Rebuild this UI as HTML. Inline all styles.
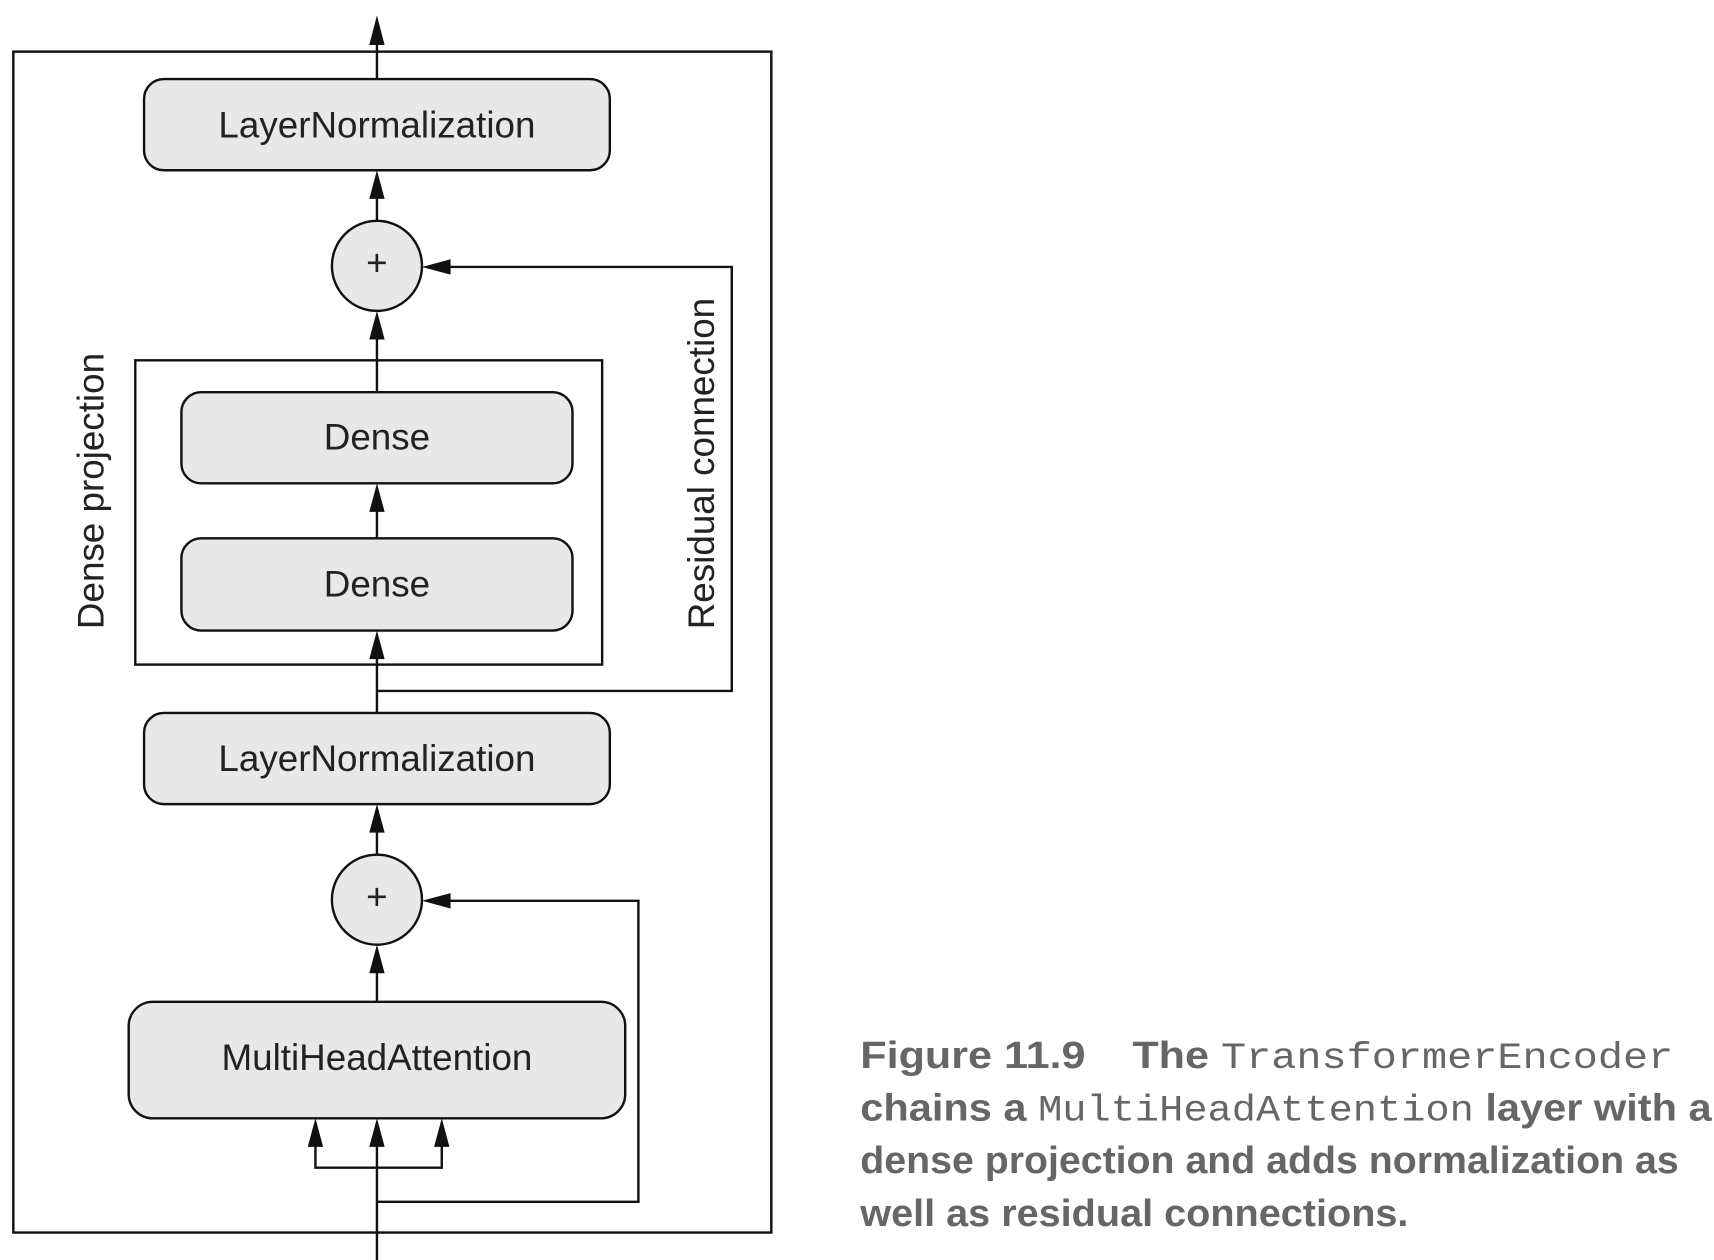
<!DOCTYPE html>
<html><head><meta charset="utf-8"><style>
html,body{margin:0;padding:0;background:#fff;width:1714px;height:1260px;overflow:hidden}
svg{display:block}
.b{fill:#e8e8e8;stroke:#111;stroke-width:2.2}
.l{fill:none;stroke:#111;stroke-width:2.2}
.t{font-family:"Liberation Sans",sans-serif;font-size:33.5px;fill:#222;text-anchor:middle}
.c{font-family:"Liberation Sans",sans-serif;font-weight:bold;font-size:35px;fill:#666}
.m{font-family:"Liberation Mono",monospace;font-weight:normal;font-size:34px;fill:#666}
</style></head><body>
<svg width="1714" height="1260" viewBox="0 0 1560 1147" xmlns="http://www.w3.org/2000/svg">
<rect x="12" y="47" width="690" height="1075" class="l"/>
<rect x="123" y="328" width="425" height="277" class="l" stroke-width="1.8"/>
<line x1="343" y1="72" x2="343" y2="30" class="l"/>
<line x1="343" y1="202" x2="343" y2="170" class="l"/>
<line x1="343" y1="357" x2="343" y2="300" class="l"/>
<line x1="343" y1="490" x2="343" y2="460" class="l"/>
<line x1="343" y1="649" x2="343" y2="590" class="l"/>
<line x1="343" y1="779" x2="343" y2="750" class="l"/>
<line x1="343" y1="912" x2="343" y2="880" class="l"/>
<line x1="343" y1="1148" x2="343" y2="1035" class="l"/>
<polyline points="287,1035 287,1063 402,1063 402,1035" class="l"/>
<g fill="#111">
<path d="M343,14 L336,41 L350,41 Z"/>
<path d="M343,155 L336,181 L350,181 Z"/>
<path d="M343,283 L336,309 L350,309 Z"/>
<path d="M343,440 L336,466 L350,466 Z"/>
<path d="M343,574 L336,600 L350,600 Z"/>
<path d="M343,732 L336,758 L350,758 Z"/>
<path d="M343,860 L336,886 L350,886 Z"/>
<path d="M343,1018 L336,1044 L350,1044 Z"/>
<path d="M287,1018 L280,1044 L294,1044 Z"/>
<path d="M402,1018 L395,1044 L409,1044 Z"/>
<path d="M384,243 L410,236 L410,250 Z"/>
<path d="M384,820 L410,813 L410,827 Z"/>
</g>
<polyline points="343,629 666,629 666,243 405,243" class="l"/>
<polyline points="343,1094 581,1094 581,820 405,820" class="l"/>
<rect x="131" y="72" width="424" height="83" rx="18" class="b"/>
<text x="343" y="125" class="t">LayerNormalization</text>
<circle cx="343" cy="242" r="41" class="b"/>
<text x="343" y="251" class="t" font-size="26">+</text>
<rect x="165" y="357" width="356" height="83" rx="18" class="b"/>
<text x="343" y="409" class="t">Dense</text>
<rect x="165" y="490" width="356" height="84" rx="18" class="b"/>
<text x="343" y="543" class="t">Dense</text>
<rect x="131" y="649" width="424" height="83" rx="18" class="b"/>
<text x="343" y="702" class="t">LayerNormalization</text>
<circle cx="343" cy="819" r="41" class="b"/>
<text x="343" y="828" class="t" font-size="26">+</text>
<rect x="117" y="912" width="452" height="106" rx="22" class="b"/>
<text x="343" y="974" class="t">MultiHeadAttention</text>
<text transform="translate(94,447) rotate(-90)" class="t">Dense projection</text>
<text transform="translate(650,422) rotate(-90)" class="t">Residual connection</text>
<text x="783" y="972" class="c" textLength="740" lengthAdjust="spacingAndGlyphs">Figure 11.9<tspan dx="38">The </tspan><tspan class="m">TransformerEncoder</tspan></text>
<text x="783" y="1020" class="c" textLength="775" lengthAdjust="spacingAndGlyphs">chains a <tspan class="m">MultiHeadAttention</tspan> layer with a</text>
<text x="783" y="1068" class="c" textLength="745" lengthAdjust="spacingAndGlyphs">dense projection and adds normalization as</text>
<text x="783" y="1116" class="c" textLength="499" lengthAdjust="spacingAndGlyphs">well as residual connections.</text>
</svg>
</body></html>
